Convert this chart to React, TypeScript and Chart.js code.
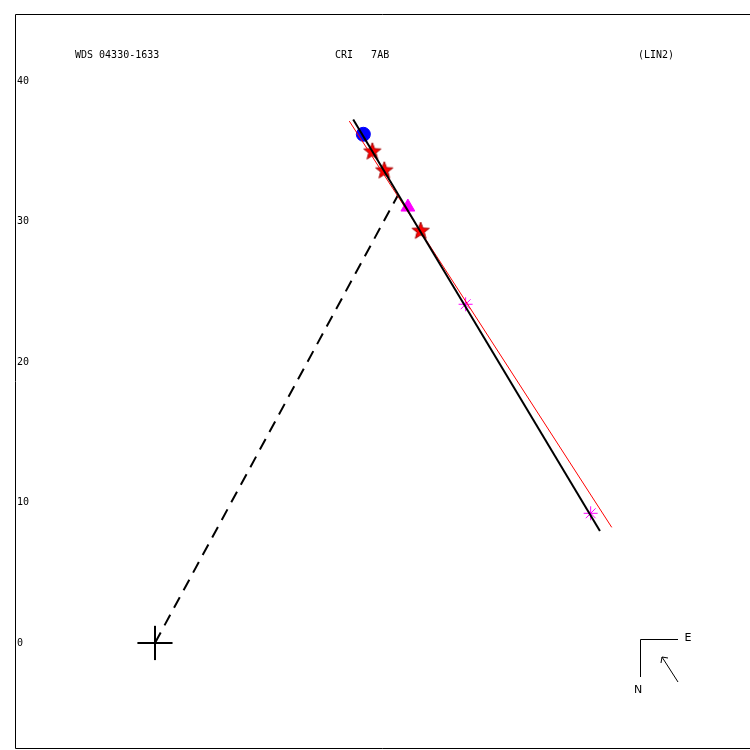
import React, { useEffect, useRef } from "react";
import { Chart, registerables } from "chart.js";

Chart.register(...registerables);

// Tick labels (y axis)
const yTicks = [0, 10, 20, 30, 40];

// Title texts
const titleLeft = "WDS 04330-1633";
const titleMid = "CRI   7AB";
const titleRight = "(LIN2)";

// Observations
const blueCircle = [{ x: 14.83, y: 36.21 }];
const redStars = [
  { x: 15.47, y: 34.97 },
  { x: 16.32, y: 33.62 },
  { x: 18.91, y: 29.32 },
];
const magentaTriangle = [{ x: 18.0, y: 31.03 }];
const magentaAsterisks = [
  { x: 22.11, y: 24.11 },
  { x: 31.01, y: 9.23 },
];

// Lines
const blackLine = [
  { x: 14.11, y: 37.27 },
  { x: 31.67, y: 7.97 },
];
const redLine = [
  { x: 13.83, y: 37.15 },
  { x: 32.51, y: 8.23 },
];
const dashedLine = [
  { x: 0, y: 0 },
  { x: 17.3, y: 31.89 },
];
const crossH = [
  { x: -1.25, y: 0 },
  { x: 1.25, y: 0 },
];
const crossV = [
  { x: 0, y: -1.22 },
  { x: 0, y: 1.22 },
];

function makeStar(): HTMLCanvasElement {
  const c = document.createElement("canvas");
  const s = 20;
  c.width = s;
  c.height = s;
  const g = c.getContext("2d")!;
  const cx = s / 2,
    cy = s / 2,
    R = 9,
    r = 3.8;
  g.beginPath();
  for (let i = 0; i < 10; i++) {
    const a = -Math.PI / 2 + (i * Math.PI) / 5;
    const rad = i % 2 === 0 ? R : r;
    const px = cx + rad * Math.cos(a);
    const py = cy + rad * Math.sin(a);
    if (i === 0) g.moveTo(px, py);
    else g.lineTo(px, py);
  }
  g.closePath();
  g.fillStyle = "#ff0000";
  g.fill();
  g.strokeStyle = "#a00000";
  g.lineWidth = 1;
  g.stroke();
  return c;
}

const decorPlugin = {
  id: "decor",
  afterDraw(chart: any) {
    const ctx = chart.ctx as CanvasRenderingContext2D;
    ctx.save();
    // frame
    ctx.strokeStyle = "#000";
    ctx.lineWidth = 1;
    ctx.beginPath();
    ctx.moveTo(15.5, 748.5);
    ctx.lineTo(15.5, 14.5);
    ctx.lineTo(750, 14.5);
    ctx.moveTo(15.5, 748.5);
    ctx.lineTo(750, 748.5);
    ctx.stroke();
    // titles
    ctx.fillStyle = "#000";
    ctx.font = "10px 'DejaVu Sans Mono'";
    ctx.textBaseline = "middle";
    ctx.textAlign = "left";
    ctx.fillText(titleLeft, 75, 55);
    ctx.fillText(titleMid, 335, 55);
    ctx.fillText(titleRight, 638, 55);
    // compass
    ctx.beginPath();
    ctx.moveTo(640.5, 677);
    ctx.lineTo(640.5, 639.5);
    ctx.lineTo(678, 639.5);
    ctx.stroke();
    ctx.font = "11px 'DejaVu Sans'";
    ctx.textAlign = "center";
    ctx.fillText("E", 688, 638);
    ctx.fillText("N", 638, 690);
    ctx.beginPath();
    ctx.moveTo(678, 682);
    ctx.lineTo(662, 657);
    ctx.moveTo(662, 657);
    ctx.lineTo(661, 663);
    ctx.moveTo(662, 657);
    ctx.lineTo(668, 658);
    ctx.stroke();
    ctx.restore();
  },
};

export default function App() {
  const ref = useRef<HTMLCanvasElement>(null);
  useEffect(() => {
    if (!ref.current) return;
    const star = makeStar();
    const chart = new Chart(ref.current, {
      type: "scatter",
      data: {
        datasets: [
          {
            data: blackLine,
            showLine: true,
            borderColor: "#000",
            borderWidth: 2,
            pointRadius: 0,
          },
          {
            data: redLine,
            showLine: true,
            borderColor: "#ff0000",
            borderWidth: 1,
            pointRadius: 0,
          },
          {
            data: dashedLine,
            showLine: true,
            borderColor: "#000",
            borderWidth: 2,
            borderDash: [12, 8],
            pointRadius: 0,
          },
          {
            data: crossH,
            showLine: true,
            borderColor: "#000",
            borderWidth: 2,
            pointRadius: 0,
          },
          {
            data: crossV,
            showLine: true,
            borderColor: "#000",
            borderWidth: 2,
            pointRadius: 0,
          },
          {
            data: magentaAsterisks,
            pointStyle: "star",
            pointRadius: 7,
            borderColor: "#ff00ff",
            borderWidth: 1,
            backgroundColor: "#ff00ff",
          },
          {
            data: magentaTriangle,
            pointStyle: "triangle",
            pointRadius: 8,
            borderColor: "#ff00ff",
            backgroundColor: "#ff00ff",
            borderWidth: 1,
          },
          {
            data: redStars,
            pointStyle: star as any,
            pointRadius: 9,
          },
          {
            data: blueCircle,
            pointStyle: "circle",
            pointRadius: 7,
            borderColor: "#0000ff",
            backgroundColor: "#0000ff",
            borderWidth: 1,
          },
        ],
      },
      options: {
        animation: false,
        responsive: false,
        maintainAspectRatio: false,
        layout: { padding: 0, autoPadding: false },
        plugins: {
          legend: { display: false },
          tooltip: { enabled: false },
        },
        scales: {
          x: {
            type: "linear",
            display: false,
            min: -11.03,
            max: 42.35,
          },
          y: {
            type: "linear",
            min: -7.62,
            max: 45.77,
            grid: { display: false, drawTicks: false },
            border: { display: false },
            afterFit: (s: any) => {
              s.width = 0;
              s.paddingTop = 0;
              s.paddingBottom = 0;
            },
            afterBuildTicks: (s: any) => {
              s.ticks = yTicks.map((v) => ({ value: v }));
            },
            ticks: {
              mirror: true,
              padding: 17,
              color: "#000",
              font: { family: "'DejaVu Sans Mono'", size: 10 },
              callback: (v: any) => String(v),
            },
          },
        },
      },
      plugins: [decorPlugin],
    });
    return () => chart.destroy();
  }, []);
  return (
    <div style={{ position: "fixed", left: 0, top: 0, width: 750, height: 750, background: "#fff" }}>
      <canvas ref={ref} width={750} height={750} style={{ width: 750, height: 750 }} />
    </div>
  );
}
